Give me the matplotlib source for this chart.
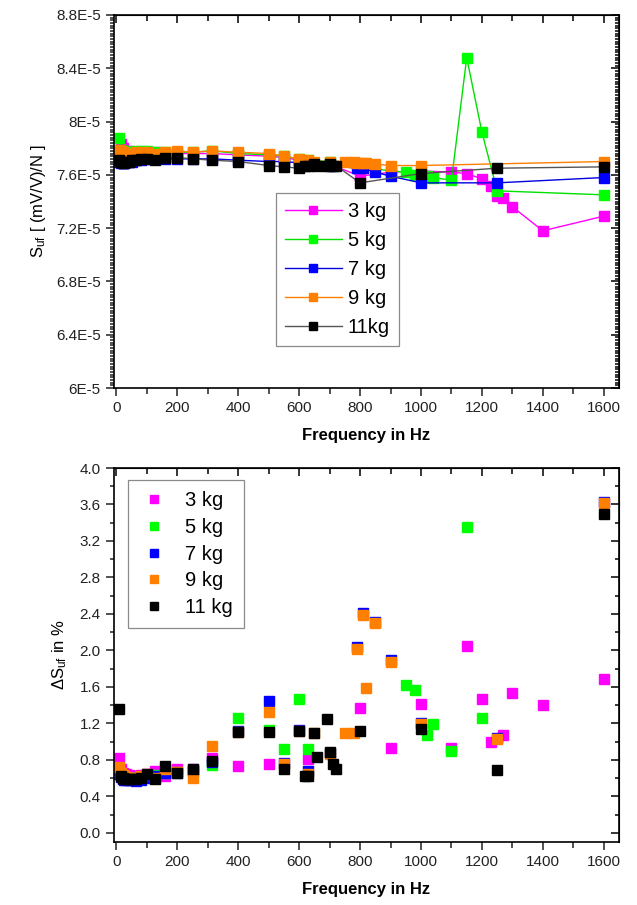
import numpy as np
import matplotlib
matplotlib.use("Agg")
import matplotlib.pyplot as plt
from matplotlib.ticker import MultipleLocator, FuncFormatter

plt.rcParams['font.family'] = ['Liberation Sans', 'DejaVu Sans']
plt.rcParams['mathtext.default'] = 'regular'

nan = np.nan

# ---- data -------------------------------------------------------------
labels_top = ["3 kg", "5 kg", "7 kg", "9 kg", "11kg"]
labels_bottom = ["3 kg", "5 kg", "7 kg", "9 kg", "11 kg"]
marker_colors = ["#ff00ff", "#00ff00", "#0000ff", "#ff8000", "#000000"]
line_colors = ["#ff00ff", "#00e000", "#0000e0", "#ff8000", "#555555"]

f_low = [10, 16, 20, 25, 31.5, 40, 50, 63, 80, 100, 125, 160, 200, 250, 315, 400, 500]

# 3 kg
freq_3 = f_low + [550, 600, 630, 700, 800, 900, 1000, 1100, 1150, 1200, 1230, 1250, 1270, 1300, 1400, 1600]
s_3 = [7.78, 7.83, 7.80, 7.78, 7.78, 7.78, 7.77, 7.77, 7.77, 7.77, 7.77, 7.76, 7.76, 7.76, 7.76, 7.75, 7.74,
       7.73, 7.71, 7.70, 7.68, 7.59, 7.62, 7.63, 7.62, 7.61, 7.57, 7.52, 7.44, 7.43, 7.36, 7.18, 7.29]
ds_3 = [0.82, 0.70, 0.66, 0.65, 0.64, 0.63, 0.62, 0.62, 0.63, 0.64, 0.68, 0.62, 0.70, 0.70, 0.82, 0.73, 0.76,
        nan, nan, 0.81, nan, 1.37, 0.93, 1.41, 0.93, 2.05, 1.47, 1.00, nan, 1.07, 1.53, 1.40, 1.69]

# 5 kg
freq_5 = f_low + [550, 600, 630, 700, 800, 900, 950, 980, 1020, 1040, 1100, 1150, 1200, 1250, 1600]
s_5 = [7.88, 7.79, 7.78, 7.78, 7.77, 7.77, 7.77, 7.78, 7.78, 7.78, 7.77, 7.77, 7.77, 7.77, 7.78, 7.76, 7.75,
       7.74, 7.72, 7.71, 7.70, 7.66, 7.63, 7.62, 7.60, 7.59, 7.58, 7.56, 8.48, 7.92, 7.48, 7.45]
ds_5 = [0.70, 0.64, 0.62, 0.61, 0.60, 0.60, 0.60, 0.60, 0.61, 0.63, 0.63, 0.66, 0.67, 0.69, 0.74, 1.26, 1.13,
        0.92, 1.47, 0.92, nan, nan, nan, 1.62, 1.57, 1.07, 1.19, 0.90, 3.35, 1.26, nan, nan]

# 7 kg
freq_7 = f_low + [550, 600, 630, 700, 790, 810, 850, 900, 1000, 1250, 1600]
s_7 = [7.70, 7.69, 7.69, 7.69, 7.70, 7.70, 7.70, 7.71, 7.71, 7.72, 7.72, 7.72, 7.72, 7.72, 7.72, 7.71, 7.70,
       7.70, 7.69, 7.68, 7.67, 7.65, 7.65, 7.62, 7.59, 7.54, 7.54, 7.58]
ds_7 = [0.64, 0.61, 0.59, 0.58, 0.58, 0.58, 0.58, 0.57, 0.58, 0.60, 0.62, 0.66, 0.66, 0.68, 0.78, 1.12, 1.45,
        0.77, 1.13, 0.68, 0.88, 2.04, 2.41, 2.31, 1.89, 1.21, 1.04, 3.63]

# 9 kg
freq_9 = f_low + [550, 600, 630, 650, 700, 750, 780, 790, 810, 820, 850, 900, 1000, 1250, 1600]
s_9 = [7.79, 7.78, 7.77, 7.76, 7.76, 7.76, 7.76, 7.77, 7.77, 7.77, 7.76, 7.77, 7.78, 7.77, 7.78, 7.77, 7.76,
       7.74, 7.72, 7.71, 7.70, 7.70, 7.70, 7.70, 7.69, 7.69, 7.69, 7.68, 7.67, 7.67, nan, 7.70]
ds_9 = [0.72, 0.66, 0.63, 0.62, 0.61, 0.60, 0.60, 0.60, 0.62, 0.65, 0.60, 0.70, 0.67, 0.60, 0.95, 1.11, 1.33,
        0.76, 1.12, 0.65, 1.10, 0.86, 1.09, 1.09, 2.02, 2.39, 1.59, 2.30, 1.87, 1.19, 1.03, 3.62]

# 11 kg
freq_11 = f_low + [550, 600, 620, 630, 650, 660, 690, 700, 710, 720, 800, 1000, 1250, 1600]
s_11 = [7.71, 7.70, 7.69, 7.69, 7.70, 7.70, 7.71, 7.71, 7.72, 7.72, 7.71, 7.73, 7.73, 7.72, 7.71, 7.70, 7.67,
        7.66, 7.65, 7.67, 7.67, 7.68, 7.67, 7.67, 7.68, 7.67, 7.67, 7.54, 7.61, 7.65, 7.66]
ds_11 = [1.36, 0.62, 0.60, 0.59, 0.59, 0.59, 0.59, 0.59, 0.60, 0.65, 0.59, 0.73, 0.66, 0.70, 0.79, 1.11, 1.11,
         0.70, 1.12, 0.62, 0.62, 1.10, 0.83, 1.25, 0.89, 0.75, 0.70, 1.12, 1.14, 0.69, 3.50]

freqs = [freq_3, freq_5, freq_7, freq_9, freq_11]
sens = [s_3, s_5, s_7, s_9, s_11]          # in units of 1E-5 (mV/V)/N
devs = [ds_3, ds_5, ds_7, ds_9, ds_11]     # in %

# ---- figure -----------------------------------------------------------
W, H = 637, 905
fig = plt.figure(figsize=(W / 100, H / 100), dpi=100)

def frac(x0, y0, x1, y1):
    return [x0 / W, 1 - y1 / H, (x1 - x0) / W, (y1 - y0) / H]

ax1 = fig.add_axes(frac(114, 15, 619, 388))
ax2 = fig.add_axes(frac(114, 468, 619, 842))

MS = 7.0
TICK_FS = 11

def style_axes(ax, ymaj, ymin, yfmt=None):
    ax.set_xlim(-8, 1650)
    for sp in ax.spines.values():
        sp.set_linewidth(1.2)
    ax.xaxis.set_major_locator(MultipleLocator(200))
    ax.xaxis.set_minor_locator(MultipleLocator(100))
    ax.yaxis.set_major_locator(MultipleLocator(ymaj))
    ax.yaxis.set_minor_locator(MultipleLocator(ymin))
    ax.tick_params(which='both', direction='out', top=False, right=False,
                   labelsize=TICK_FS, width=1.1, colors='#222222')
    ax.tick_params(which='major', length=6)
    ax.tick_params(which='minor', length=3)
    ax.tick_params(axis='x', which='minor', length=4)
    if yfmt is not None:
        ax.yaxis.set_major_formatter(yfmt)
    # mirrored inward ticks on top and right
    top = ax.secondary_xaxis('top')
    top.xaxis.set_major_locator(MultipleLocator(200))
    top.xaxis.set_minor_locator(MultipleLocator(100))
    top.tick_params(which='both', direction='in', labeltop=False, width=1.1)
    top.tick_params(which='major', length=6)
    top.tick_params(which='minor', length=4)
    right = ax.secondary_yaxis('right')
    right.yaxis.set_major_locator(MultipleLocator(ymaj))
    right.yaxis.set_minor_locator(MultipleLocator(ymin))
    right.tick_params(which='both', direction='in', labelright=False, width=1.1)
    right.tick_params(which='major', length=6)
    right.tick_params(which='minor', length=3)
    ax.set_xlabel("Frequency in Hz", fontsize=12, fontweight='bold', labelpad=9)

def e5(v, pos):
    m = round(v * 1e5, 2)
    txt = f"{m:.1f}".rstrip('0').rstrip('.')
    return f"{txt}E-5"

# ---- top: sensitivity --------------------------------------------------
for f, s, mc, lc, lab in zip(freqs, sens, marker_colors, line_colors, labels_top):
    f = np.asarray(f, float)
    s = np.asarray(s, float) * 1e-5
    ok = np.isfinite(s)
    ax1.plot(f[ok], s[ok], color=lc, lw=1.0, marker='s', ms=MS,
             mfc=mc, mec=mc, label=lab)

ax1.set_ylim(6.0e-5, 8.8e-5)
style_axes(ax1, 0.4e-5, 0.02e-5, FuncFormatter(e5))
ax1.set_ylabel(r"S$_{uf}$ [ (mV/V)/N ]", fontsize=12, labelpad=6)

leg1 = ax1.legend(loc='upper left', bbox_to_anchor=(0.321, 0.523), fontsize=14.5,
                  frameon=True, fancybox=False, edgecolor='#8a8a8a', framealpha=1,
                  handlelength=2.8, handletextpad=0.3, labelspacing=0.5,
                  borderpad=0.45, borderaxespad=0, numpoints=1, markerscale=0.75)
leg1.get_frame().set_linewidth(0.9)

# ---- bottom: deviation -------------------------------------------------
for f, d, mc, lab in zip(freqs, devs, marker_colors, labels_bottom):
    f = np.asarray(f, float)
    d = np.asarray(d, float)
    ok = np.isfinite(d)
    ax2.plot(f[ok], d[ok], linestyle='none', marker='s', ms=MS,
             mfc=mc, mec=mc, label=lab)

ax2.set_ylim(-0.1, 4.0)
style_axes(ax2, 0.4, 0.2, FuncFormatter(lambda v, p: f"{v:.1f}"))
ax2.set_ylabel(r"$\Delta$S$_{uf}$ in %", fontsize=12, labelpad=8)

leg2 = ax2.legend(loc='upper left', bbox_to_anchor=(0.027, 0.967), fontsize=14.5,
                  frameon=True, fancybox=False, edgecolor='#8a8a8a', framealpha=1,
                  handlelength=1.5, handletextpad=0.8, labelspacing=0.38,
                  borderpad=0.55, borderaxespad=0, numpoints=1, markerscale=0.75)
leg2.get_frame().set_linewidth(0.9)

fig.savefig("out.png", dpi=100)
